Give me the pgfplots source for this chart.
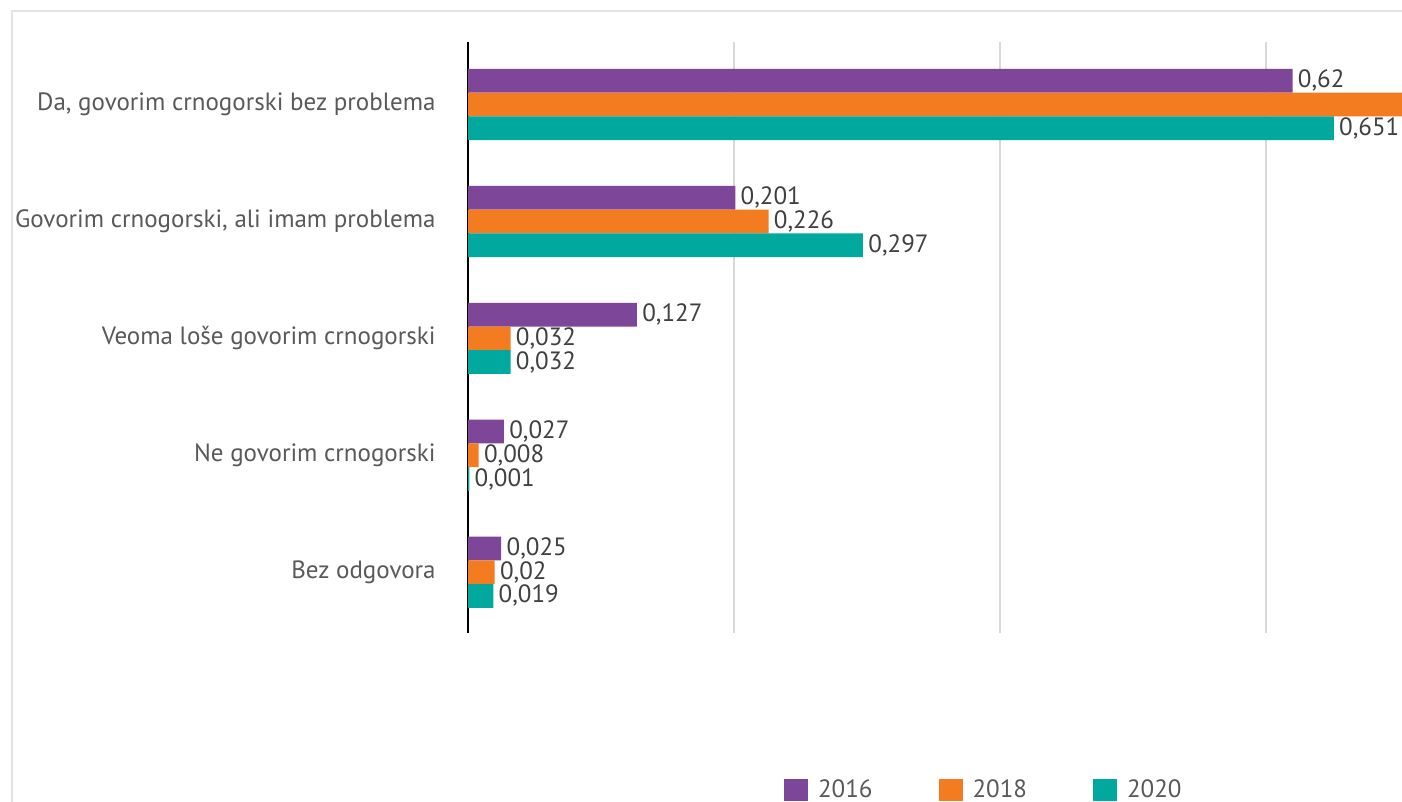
\documentclass[border=0pt]{standalone}
\usepackage{pgfplots}
\pgfplotsset{compat=1.18}
\usepackage{fontspec}
\setmainfont{PT Sans}
\definecolor{c16}{RGB}{126,70,152}
\definecolor{c18}{RGB}{243,123,32}
\definecolor{c20}{RGB}{0,168,157}
\definecolor{labgray}{RGB}{89,89,89}
\definecolor{valgray}{RGB}{64,64,64}
\definecolor{gridgray}{RGB}{217,217,217}
\definecolor{framegray}{RGB}{228,228,228}

\begin{document}
\begin{tikzpicture}[x=1pt,y=1pt]
\useasboundingbox (0,0) rectangle (701,401);
\clip (0,0) rectangle (701,401);
\fill[white] (0,0) rectangle (701,401);
\draw[framegray, line width=1pt] (6,0) -- (6,395.5) -- (701,395.5);
\begin{axis}[
  at={(234pt,84.5pt)}, anchor=south west,
  scale only axis, width=467pt, height=295.5pt,
  xbar, clip=false,
  xmin=0, xmax=0.7023, ymin=-0.535, ymax=4.52, y dir=reverse,
  axis x line*=bottom, x axis line style={draw=none},
  axis y line*=left, y axis line style={black, line width=1pt},
  xtick={0.2,0.4,0.6}, xticklabels={},
  xmajorgrids, grid style={gridgray, line width=1pt},
  major tick length=0pt,
  ytick={0,1,2,3,4},
  yticklabels={Da{,} govorim crnogorski bez problema,
               Govorim crnogorski{,} ali imam problema,
               Veoma loše govorim crnogorski,
               Ne govorim crnogorski,
               Bez odgovora},
  yticklabel style={color=labgray, font=\fontsize{12.5}{14}\selectfont, inner sep=0pt, xshift=-16pt},
  bar width=0.203,
  point meta=x,
  nodes near coords={\pgfmathprintnumber[fixed, use comma, precision=3, assume math mode=true]{\pgfplotspointmeta}},
  nodes near coords style={anchor=west, inner sep=0pt, xshift=2.5pt, color=valgray, font=\fontsize{12.5}{14}\selectfont},
  legend style={at={(axis description cs:0.338,-0.266)}, anchor=west, draw=none, fill=none,
    font=\fontsize{12.5}{14}\selectfont, text=labgray, inner sep=0pt,
    /tikz/every odd column/.append style={column sep=3pt},
    /tikz/every even column/.append style={column sep=31pt}},
  legend columns=3,
  legend image code/.code={\fill[#1] (0pt,-5.5pt) rectangle (12pt,5.5pt);},
]
\addplot[fill=c16, draw=none, bar shift=-0.203] coordinates {
  (0.62,0) (0.201,1) (0.127,2) (0.027,3) (0.025,4)};
\addplot[fill=c18, draw=none, bar shift=0] coordinates {
  (0.714,0) (0.226,1) (0.032,2) (0.008,3) (0.02,4)};
\addplot[fill=c20, draw=none, bar shift=0.203] coordinates {
  (0.651,0) (0.297,1) (0.032,2) (0.001,3) (0.019,4)};
\legend{2016,2018,2020}
\end{axis}
\end{tikzpicture}
\end{document}
